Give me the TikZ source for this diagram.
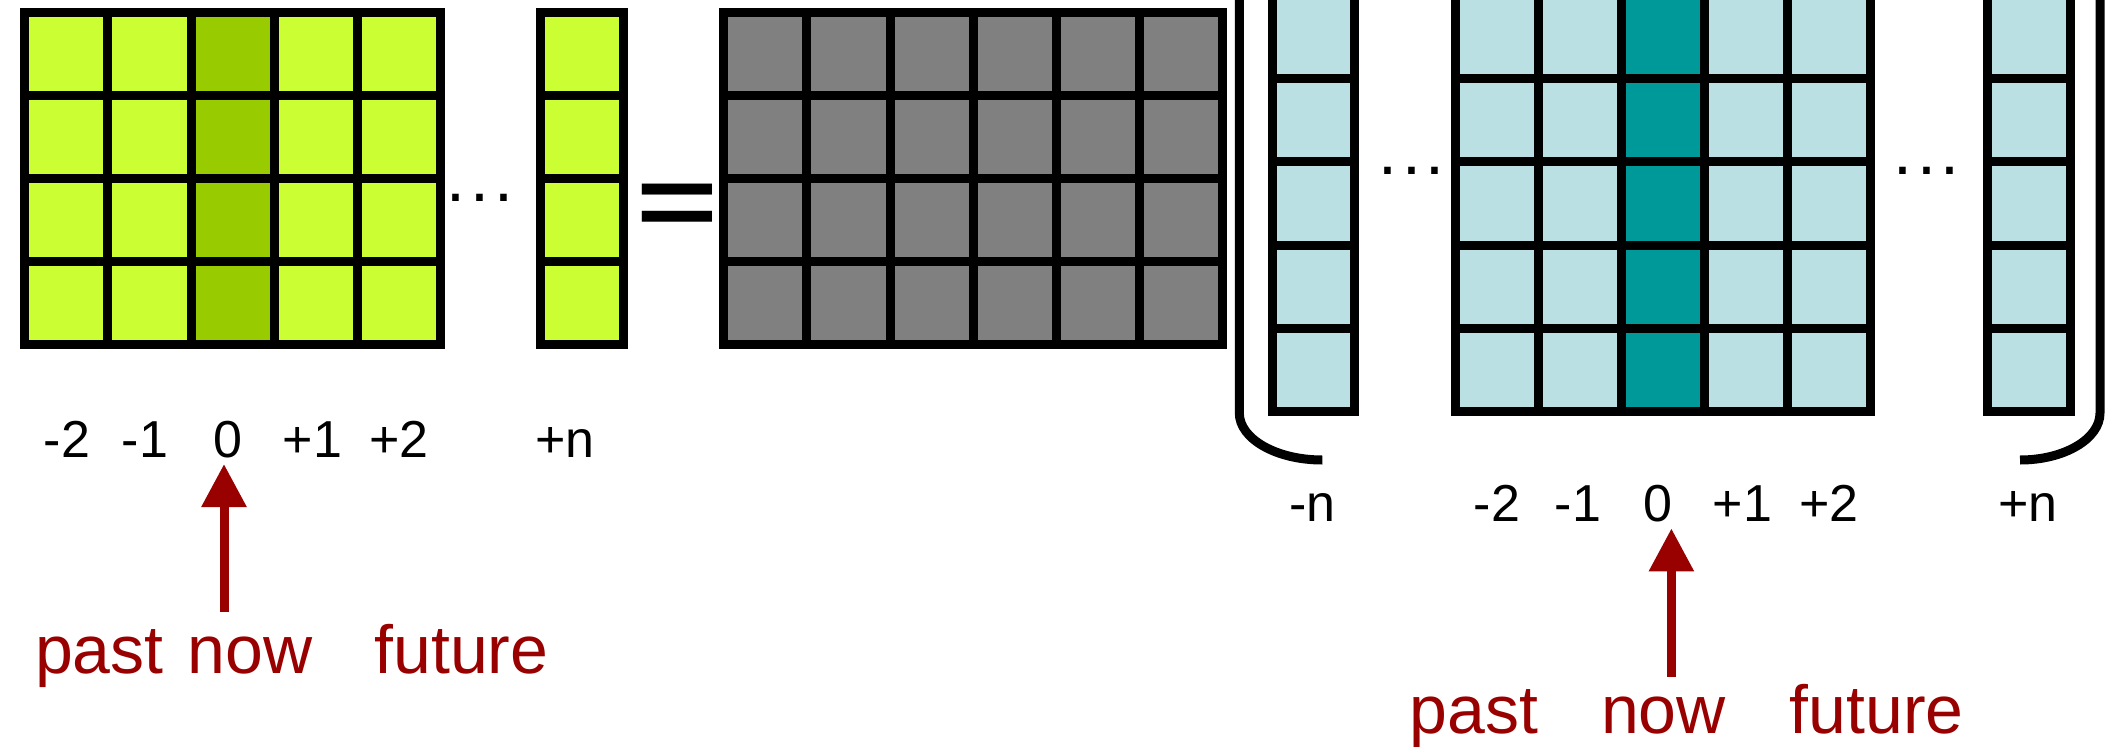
\documentclass[tikz,border=0pt]{standalone}
\usepackage{fontspec}
\setmainfont{Liberation Sans}
\usetikzlibrary{arrows.meta}

\definecolor{limelight}{HTML}{CCFF33}
\definecolor{limedark}{HTML}{99CC00}
\definecolor{convgray}{HTML}{808080}
\definecolor{aqualight}{HTML}{BBE0E3}
\definecolor{tealdark}{HTML}{009999}
\definecolor{timered}{HTML}{990000}

\begin{document}
\begin{tikzpicture}[
    x=1pt, y=-1pt,
    line join=miter,
    cell/.style={draw=black, line width=9pt},
    bracket/.style={draw=black, line width=9pt},
    idx/.style={font=\fontsize{52}{60}\selectfont, inner sep=0pt, anchor=base},
    timeword/.style={font=\fontsize{68}{80}\selectfont, text=timered, inner sep=0pt, anchor=base},
    dotsnode/.style={font=\fontsize{68}{80}\selectfont, inner sep=0pt, anchor=base},
    nowarrow/.style={-{Triangle[length=43pt,width=43pt]}, line width=9pt, draw=timered, shorten >=6pt}
]

% ======================================
% parameters
% ======================================
\def\cw{83.2}       % cell size, left part
\def\rw{83.1}       % cell size, right part
\def\gy{12}         % top of the left matrices
\def\ry{-5}         % top of the right matrices (cut off)

\useasboundingbox (0,0) rectangle (2105,747);
\clip (0,0) rectangle (2105,747);

% ======================================
% left: input matrix, one column per time step
% ======================================
\foreach \i in {0,...,4}{
    \foreach \j in {0,...,3}{
        \ifnum\i=2 \def\cellfill{limedark}\else\def\cellfill{limelight}\fi
        \draw[cell, fill=\cellfill] ({24.6+\i*\cw},{\gy+\j*\cw}) rectangle ++(\cw,\cw);
    }
}
% column +n
\foreach \j in {0,...,3}
    \draw[cell, fill=limelight] (540.6,{\gy+\j*\cw}) rectangle ++(\cw,\cw);

\node[dotsnode] (dotsA) at (479.9,201) {.\hspace{4.7pt}.\hspace{4.7pt}.};

% equals sign
\node[inner sep=0pt, anchor=base] (eq) at (677.3,236)
    {\fontsize{140}{150}\selectfont\bfseries\scalebox{1}[0.72]{=}};

% ======================================
% gray matrix
% ======================================
\foreach \i in {0,...,5}{
    \foreach \j in {0,...,3}{
        \draw[cell, fill=convgray] ({723.7+\i*\cw},{\gy+\j*\cw}) rectangle ++(\cw,\cw);
    }
}

% ======================================
% right: stack of columns -n ... +n
% ======================================
\foreach \j in {0,...,4}{
    \draw[cell, fill=aqualight] (1272.1,{\ry+\j*\rw*1.003}) rectangle ++(82.5,{\rw*1.003});
    \draw[cell, fill=aqualight] (1987,{\ry+\j*\rw*1.003}) rectangle ++(\rw,{\rw*1.003});
    \foreach \i in {0,...,4}{
        \ifnum\i=2 \def\cellfill{tealdark}\else\def\cellfill{aqualight}\fi
        \draw[cell, fill=\cellfill] ({1455+\i*\rw},{\ry+\j*\rw*1.003}) rectangle ++(\rw,{\rw*1.003});
    }
}

\node[dotsnode] (dotsB) at (1411.7,174) {.\hspace{4.7pt}.\hspace{4.7pt}.};
\node[dotsnode] (dotsC) at (1926.7,174) {.\hspace{4.7pt}.\hspace{4.7pt}.};

% brackets
\draw[bracket] (1239.3,-10) -- (1239.3,413)
    arc[start angle=180, end angle=90, x radius=83, y radius=47];
\draw[bracket] (2100,-10) -- (2100,413)
    arc[start angle=0, end angle=90, x radius=80, y radius=47];

% ======================================
% index labels
% ======================================
\foreach \x/\t/\n in {67/-2/m2, 145/-1/m1, 227.7/0/zeroL, 312.5/+1/p1, 398.7/+2/p2, 564.7/+n/pn}
    \node[idx] (lab-\n) at (\x,457.3) {\t};
\foreach \x/\t/\n in {1312.5/-n/Rmn, 1497/-2/Rm2, 1578/-1/Rm1, 1657.6/0/zeroR, 1742.4/+1/Rp1, 1829/+2/Rp2, 2028/+n/Rpn}
    \node[idx] (lab-\n) at (\x,521.7) {\t};

% ======================================
% past / now / future
% ======================================
\node[timeword] (pastL)   at (99.4,673)   {past};
\node[timeword] (nowL)    at (250,673)    {now};
\node[timeword] (futureL) at (461.5,673)  {future};

\node[timeword] (pastR)   at (1474,733.3)   {past};
\node[timeword] (nowR)    at (1663.5,733.3) {now};
\node[timeword] (futureR) at (1876.6,733.3) {future};

% arrows to the current step
\coordinate (tailL) at (224,611.7);
\coordinate (tailR) at (1671.4,676.7);
\draw[nowarrow] (tailL) -- (tailL |- lab-zeroL.south);
\draw[nowarrow] (tailR) -- (tailR |- lab-zeroR.south);

\end{tikzpicture}
\end{document}
